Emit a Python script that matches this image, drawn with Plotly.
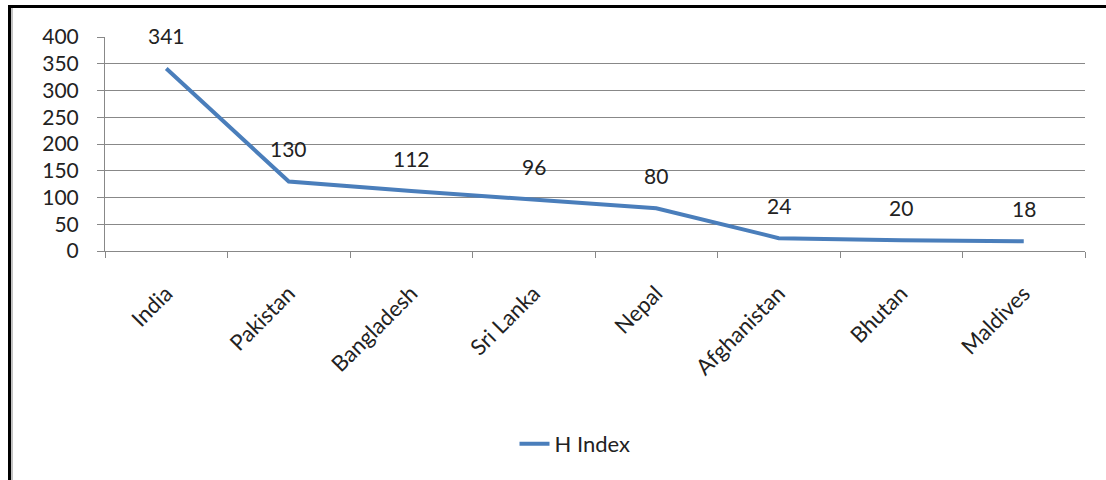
import plotly.graph_objects as go

countries = ["India", "Pakistan", "Bangladesh", "Sri Lanka", "Nepal", "Afghanistan", "Bhutan", "Maldives"]
h_index = [341, 130, 112, 96, 80, 24, 20, 18]
y_ticks = [0, 50, 100, 150, 200, 250, 300, 350, 400]

W, H = 1106, 480
L, R, T, B = 105, 21, 37, 229
FONT = "Lato, Open Sans, sans-serif"

fig = go.Figure()
fig.add_trace(go.Scatter(
    x=countries, y=h_index, mode="lines", name="H Index",
    line=dict(color="#4A7EBB", width=4),
))

for c, v in zip(countries, h_index):
    fig.add_annotation(x=c, y=v, text=str(v), showarrow=False,
                       yshift=33, font=dict(size=21, color="#222", family=FONT))

pw, ph = W - L - R, H - T - B
def px(x):
    return (x - L) / pw
def py(y):
    return (H - B - y) / ph

# outer frame
fig.add_shape(type="line", xref="paper", yref="paper",
              x0=px(9.5), x1=px(9.5), y0=py(5), y1=py(490),
              line=dict(color="black", width=3))
fig.add_shape(type="line", xref="paper", yref="paper",
              x0=px(12), x1=px(12), y0=py(7), y1=py(490),
              line=dict(color="#888", width=1))
fig.add_shape(type="line", xref="paper", yref="paper",
              x0=px(8), x1=px(1120), y0=py(6.5), y1=py(6.5),
              line=dict(color="black", width=3))

fig.update_layout(
    width=W, height=H,
    margin=dict(l=L, r=R, t=T, b=B, pad=0, autoexpand=False),
    plot_bgcolor="white", paper_bgcolor="white",
    font=dict(family=FONT, size=20, color="#222"),
    showlegend=True,
    legend=dict(orientation="h", x=px(575), xanchor="center", y=py(444), yanchor="middle",
                font=dict(size=22, family=FONT)),
    xaxis=dict(
        type="category", range=[-0.5, 7.5],
        showline=True, linecolor="#888", linewidth=1,
        ticks="outside", tickson="boundaries", ticklen=6, tickcolor="#888",
        tickangle=-45, tickfont=dict(size=22, family=FONT),
        ticklabelstandoff=20,
        showgrid=False, zeroline=False,
    ),
    yaxis=dict(
        range=[0, 400], tickvals=y_ticks,
        showline=True, linecolor="#888", linewidth=1,
        ticks="outside", ticklen=7, tickcolor="#888",
        ticklabelstandoff=14,
        showgrid=True, gridcolor="#888", gridwidth=1,
        zeroline=False, tickfont=dict(size=21, family=FONT),
    ),
)

fig.write_html("out.html", config={"displayModeBar": False},
               post_script="document.body.style.margin='0px';")
